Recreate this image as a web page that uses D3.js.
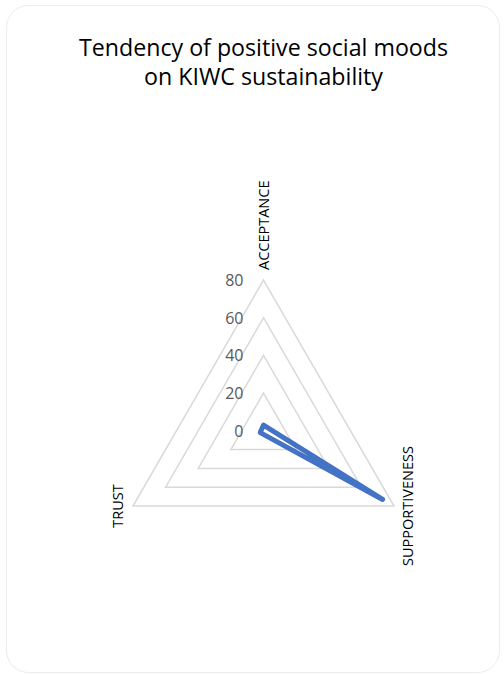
<!DOCTYPE html>
<html>
<head>
<meta charset="utf-8">
<script src="https://cdn.jsdelivr.net/npm/d3@7"></script>
<style>
  body { margin: 0; background: #fff; }
</style>
</head>
<body>
<div id="chart"></div>
<script>
var axes = ["ACCEPTANCE", "SUPPORTIVENESS", "TRUST"];
var values = [3, 73, 2];
var ticks = [0, 20, 40, 60, 80];
var titleLines = ["Tendency of positive social moods", "on KIWC sustainability"];

function start(){
    var width = 504, height = 674;
    var cx = 263.5, cy = 430.7;

    var svg = d3.select("#chart").append("svg")
        .attr("width", width)
        .attr("height", height);

    // card
    svg.append("rect")
       .attr("x", 6.5).attr("y", 5.5)
       .attr("width", 493).attr("height", 667)
       .attr("rx", 22).attr("ry", 22)
       .attr("fill", "#fff")
       .attr("stroke", "#ececec");

    svg.selectAll(".title")
       .data(titleLines)
       .enter()
       .append("text")
       .attr("class", "title")
       .attr("x", cx)
       .attr("y", function(d, i){ return 56 + i * 29; })
       .attr("text-anchor", "middle")
       .style("font-family", "Open Sans, sans-serif")
       .style("font-size", "23.2px")
       .style("fill", "#000")
       .text(function(d){ return d; });

    var r = d3.scaleLinear().domain([0, 80]).range([0, 150.7]);
    var angle = d3.scaleBand().domain(axes).range([0, 2 * Math.PI]);

    function pt(axis, v){
        var a = angle(axis);
        return [cx + r(v) * Math.sin(a), cy - r(v) * Math.cos(a)];
    }

    var g = svg.append("g");

    // grid rings
    g.selectAll(".ring")
     .data(ticks.slice(1))
     .enter()
     .append("polygon")
     .attr("class", "ring")
     .attr("points", function(t){
         return axes.map(function(a){ return pt(a, t).join(","); }).join(" ");
     })
     .attr("fill", "none")
     .attr("stroke", "#d9d9d9")
     .attr("stroke-width", 1.5);

    // tick labels
    g.selectAll(".tick")
     .data(ticks)
     .enter()
     .append("text")
     .attr("class", "tick")
     .attr("x", cx - 20)
     .attr("y", function(t){ return cy - r(t) + 6; })
     .attr("text-anchor", "end")
     .style("font-family", "Open Sans, sans-serif")
     .style("font-size", "16px")
     .style("fill", "#595959")
     .text(function(t){ return t; });

    // series
    var line = d3.line().curve(d3.curveLinearClosed);
    g.append("path")
     .attr("d", line(axes.map(function(a, i){ return pt(a, values[i]); })))
     .attr("fill", "none")
     .attr("stroke", "#4472c4")
     .attr("stroke-width", 5)
     .attr("stroke-linejoin", "round");

    // axis labels, all rotated
    var labelPos = [
        {dx: 0.5, dy: -10, anchor: "start"},
        {dx: 14, dy: 0, anchor: "middle"},
        {dx: -15.5, dy: 0, anchor: "middle"}
    ];
    axes.forEach(function(a, i){
        var p = pt(a, 80);
        var x = p[0] + labelPos[i].dx, y = p[1] + labelPos[i].dy;
        svg.append("text")
           .attr("transform", "translate(" + x + "," + y + ") rotate(-90)")
           .attr("text-anchor", labelPos[i].anchor)
           .attr("dy", "0.35em")
           .style("font-family", "Open Sans, sans-serif")
           .style("font-size", "14.5px")
           .style("fill", "#000")
           .text(a);
    });
}

start()
</script>
</body>
</html>
